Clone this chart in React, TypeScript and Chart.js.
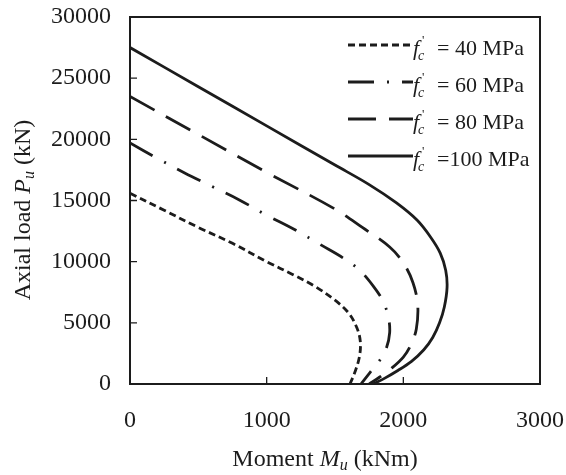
import React, { useEffect, useRef } from 'react';
import { Chart, registerables } from 'chart.js';

Chart.register(...registerables);

// ---- data ----
const momentTicks = [0, 1000, 2000, 3000];
const loadTicks = [0, 5000, 10000, 15000, 20000, 25000, 30000];

const fc40Moment = [0, 250, 500, 750, 1000, 1200, 1350, 1500, 1600, 1660, 1685, 1680, 1650, 1610];
const fc40Load = [15600, 14200, 12800, 11500, 10000, 8900, 8000, 6850, 5800, 4600, 3500, 2300, 1100, 0];

const fc60Moment = [0, 200, 400, 600, 800, 1000, 1200, 1400, 1560, 1680, 1780, 1850, 1890, 1900, 1875, 1825, 1760, 1690];
const fc60Load = [19700, 18450, 17250, 16150, 15050, 13800, 12650, 11350, 10300, 9300, 8000, 6800, 5500, 4200, 2900, 1900, 1000, 0];

const fc80Moment = [0, 500, 1000, 1500, 1700, 1900, 2000, 2070, 2105, 2095, 2055, 2000, 1910, 1825, 1750];
const fc80Load = [23500, 20400, 17300, 14300, 12800, 11200, 9900, 8300, 6500, 4500, 3200, 2200, 1250, 550, 0];

const fc100Moment = [0, 500, 1000, 1500, 1750, 1950, 2100, 2200, 2270, 2310, 2320, 2300, 2265, 2215, 2150, 2060, 1960, 1865, 1780];
const fc100Load = [27500, 24300, 21100, 17900, 16300, 14800, 13400, 12000, 10700, 9300, 7900, 6300, 5000, 3800, 2800, 1850, 1100, 480, 0];

const strengthLabels = ['40', '60', '80', '100'];

const FONT = '"Liberation Serif", "Times New Roman", "DejaVu Serif", serif';
const INK = '#1c1c1c';

const toPoints = (xs: number[], ys: number[]) => xs.map((x, i) => ({ x, y: ys[i] }));

type Run = { text: string; italic?: boolean; size: number; dy?: number };

function runsWidth(ctx: CanvasRenderingContext2D, runs: Run[]) {
  let w = 0;
  for (const r of runs) {
    ctx.font = `${r.italic ? 'italic ' : ''}${r.size}px ${FONT}`;
    w += ctx.measureText(r.text).width;
  }
  return w;
}

function drawRuns(ctx: CanvasRenderingContext2D, runs: Run[], x: number, y: number) {
  let cx = x;
  for (const r of runs) {
    ctx.font = `${r.italic ? 'italic ' : ''}${r.size}px ${FONT}`;
    ctx.fillText(r.text, cx, y + (r.dy || 0));
    cx += ctx.measureText(r.text).width;
  }
}

const framePlugin = {
  id: 'frameAndText',
  afterDraw(chart: any) {
    const { ctx, chartArea: a, scales } = chart;
    const xs = scales.x;
    const ys = scales.y;
    ctx.save();
    ctx.strokeStyle = INK;
    ctx.fillStyle = INK;
    // frame
    ctx.lineWidth = 2;
    ctx.setLineDash([]);
    ctx.strokeRect(a.left, a.top, a.right - a.left, a.bottom - a.top);
    // inward ticks
    const tl = 7;
    ctx.lineWidth = 1.3;
    ctx.beginPath();
    for (const t of xs.ticks) {
      const px = xs.getPixelForValue(t.value);
      ctx.moveTo(px, a.bottom);
      ctx.lineTo(px, a.bottom - tl);
    }
    for (const t of ys.ticks) {
      const py = ys.getPixelForValue(t.value);
      ctx.moveTo(a.left, py);
      ctx.lineTo(a.left + tl, py);
    }
    ctx.stroke();

    // x title
    ctx.textBaseline = 'alphabetic';
    ctx.textAlign = 'left';
    const xRuns: Run[] = [
      { text: 'Moment ', size: 24 },
      { text: 'M', italic: true, size: 24 },
      { text: 'u', italic: true, size: 16, dy: 4 },
      { text: ' (kNm)', size: 24 },
    ];
    const xw = runsWidth(ctx, xRuns);
    drawRuns(ctx, xRuns, 325 - xw / 2, 466);

    // y title
    const yRuns: Run[] = [
      { text: 'Axial load ', size: 24 },
      { text: 'P', italic: true, size: 24 },
      { text: 'u', italic: true, size: 16, dy: 4 },
      { text: ' (kN)', size: 24 },
    ];
    const yw = runsWidth(ctx, yRuns);
    ctx.save();
    ctx.translate(30, 210);
    ctx.rotate(-Math.PI / 2);
    drawRuns(ctx, yRuns, -yw / 2, 0);
    ctx.restore();

    // legend
    chart.data.datasets.forEach((ds: any, i: number) => {
      const ly = 45 + 37 * i;
      ctx.save();
      ctx.lineWidth = ds.borderWidth;
      ctx.setLineDash(ds.borderDash || []);
      ctx.strokeStyle = INK;
      ctx.beginPath();
      ctx.moveTo(348, ly);
      ctx.lineTo(413, ly);
      ctx.stroke();
      ctx.restore();
      const bx = 413;
      const by = ly + 10;
      ctx.font = `italic 22px ${FONT}`;
      ctx.fillText('f', bx, by);
      ctx.font = `italic 14px ${FONT}`;
      ctx.fillText('c', bx + 5, by + 5);
      ctx.font = `13px ${FONT}`;
      ctx.fillText("'", bx + 9, by - 11);
      ctx.font = `22px ${FONT}`;
      const rest = i === 3 ? '=100 MPa' : '= ' + strengthLabels[i] + ' MPa';
      ctx.fillText(rest, bx + 24, by);
    });
    ctx.restore();
  },
};

export default function App() {
  const ref = useRef<HTMLCanvasElement | null>(null);
  useEffect(() => {
    document.body.style.margin = '0';
    const canvas = ref.current;
    if (!canvas) return;
    const common = { borderColor: INK, backgroundColor: INK, pointRadius: 0, showLine: true, tension: 0.35, fill: false, borderWidth: 2.8 };
    const chart = new Chart(canvas, {
      type: 'scatter',
      data: {
        datasets: [
          { ...common, label: 'fc = 40 MPa', data: toPoints(fc40Moment, fc40Load), borderDash: [7, 4] },
          { ...common, label: 'fc = 60 MPa', data: toPoints(fc60Moment, fc60Load), borderDash: [26, 13, 2, 13] },
          { ...common, label: 'fc = 80 MPa', data: toPoints(fc80Moment, fc80Load), borderDash: [28, 13] },
          { ...common, label: 'fc = 100 MPa', data: toPoints(fc100Moment, fc100Load), borderDash: [] },
        ],
      },
      options: {
        animation: false,
        responsive: false,
        devicePixelRatio: 1,
        layout: { padding: { top: 17, right: 26, left: 0, bottom: 0 } },
        plugins: { legend: { display: false }, tooltip: { enabled: false } },
        scales: {
          x: {
            type: 'linear',
            min: momentTicks[0],
            max: momentTicks[momentTicks.length - 1],
            afterBuildTicks: (s: any) => { s.ticks = momentTicks.map((v) => ({ value: v })); },
            afterFit: (s: any) => { s.height = 91; s.paddingLeft = 0; s.paddingRight = 0; },
            grid: { display: false, drawTicks: false },
            border: { display: false },
            ticks: { color: INK, padding: 22, font: { family: FONT, size: 24 }, maxRotation: 0, callback: (v: any) => String(v) },
          },
          y: {
            type: 'linear',
            min: loadTicks[0],
            max: loadTicks[loadTicks.length - 1],
            afterBuildTicks: (s: any) => { s.ticks = loadTicks.map((v) => ({ value: v })); },
            afterFit: (s: any) => { s.width = 130; s.paddingTop = 0; s.paddingBottom = 0; },
            grid: { display: false, drawTicks: false },
            border: { display: false },
            ticks: { color: INK, padding: 19, font: { family: FONT, size: 24 }, callback: (v: any) => String(v) },
          },
        },
      },
      plugins: [framePlugin],
    });
    return () => chart.destroy();
  }, []);
  return (
    <div style={{ width: 566, height: 475 }}>
      <canvas ref={ref} width={566} height={475} style={{ display: 'block' }} />
    </div>
  );
}
